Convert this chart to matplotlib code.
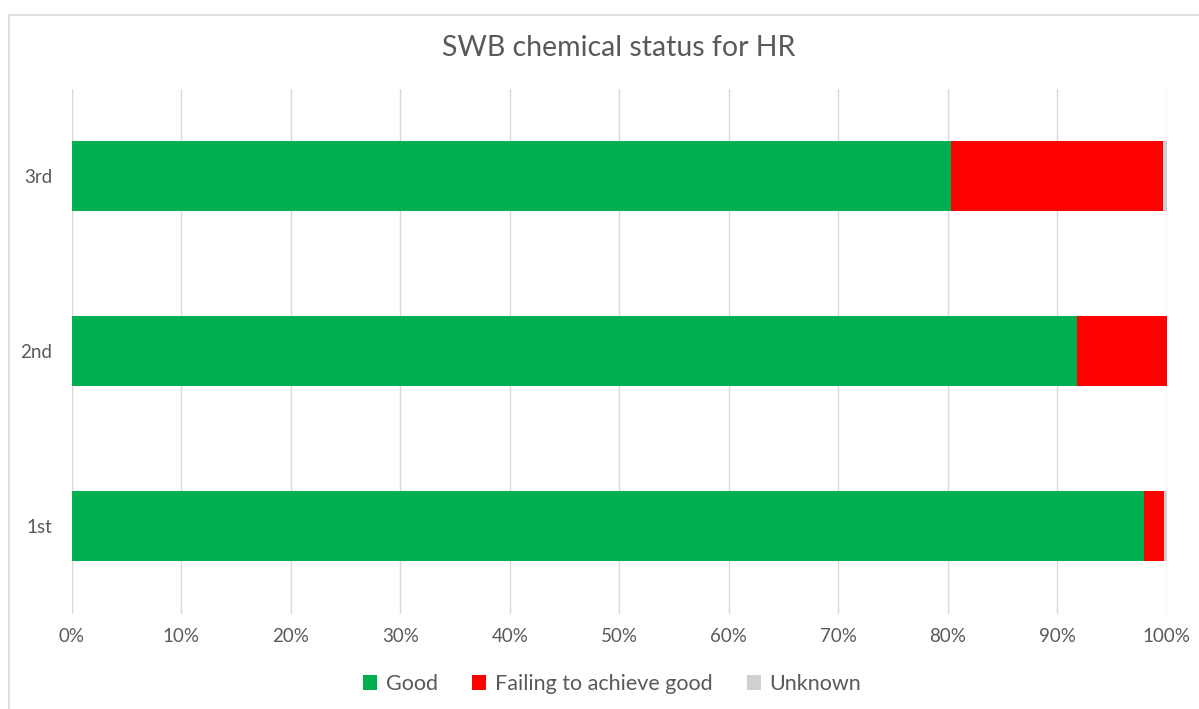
import matplotlib.pyplot as plt
from matplotlib.patches import Rectangle

categories = ["1st", "2nd", "3rd"]
good = [97.9, 91.8, 80.3]
failing = [1.9, 8.2, 19.4]
unknown = [0.2, 0.0, 0.3]

plt.rcParams["font.family"] = ["Lato", "DejaVu Sans"]
text_color = "#595959"

fig = plt.figure(figsize=(11.99, 7.09), dpi=100)
ax = fig.add_axes([0.0600, 0.134, 0.913, 0.741])

# chart area border, like the Excel frame
fig.patches.append(Rectangle((9 / 1199, -0.1), 1.2, 1 - 15 / 709 + 0.1,
                             transform=fig.transFigure, fill=False,
                             edgecolor="#D9D9D9", linewidth=1.2))

y = range(len(categories))
ax.barh(y, good, height=0.4, color="#00B050", label="Good", zorder=3)
ax.barh(y, failing, left=good, height=0.4, color="#FF0000",
        label="Failing to achieve good", zorder=3)
left2 = [g + f for g, f in zip(good, failing)]
ax.barh(y, unknown, left=left2, height=0.4, color="#D0D0D0",
        label="Unknown", zorder=3)

ax.set_xlim(0, 100)
ax.set_ylim(-0.5, 2.5)
ax.set_xticks(range(0, 101, 10))
ax.set_xticklabels([f"{v}%" for v in range(0, 101, 10)])
ax.set_yticks(list(y))
ax.set_yticklabels(categories)
ax.tick_params(axis="both", length=0, labelsize=13.5, colors=text_color)
ax.tick_params(axis="x", pad=10)
ax.tick_params(axis="y", pad=14)
ax.grid(axis="x", color="#D9D9D9", linewidth=1, zorder=0)
for s in ax.spines.values():
    s.set_visible(False)

fig.text(0.5 * (72 + 1166) / 1199, 1 - 48 / 709, "SWB chemical status for HR",
         ha="center", va="center", fontsize=20.5, color=text_color)

fig.legend(loc="center", bbox_to_anchor=(612 / 1199, 1 - 684 / 709), ncol=3,
           frameon=False, fontsize=15.5, handlelength=0.65, handleheight=0.65,
           handletextpad=0.4, columnspacing=1.6, labelcolor=text_color)

fig.savefig("out.png", dpi=100, facecolor="white")
